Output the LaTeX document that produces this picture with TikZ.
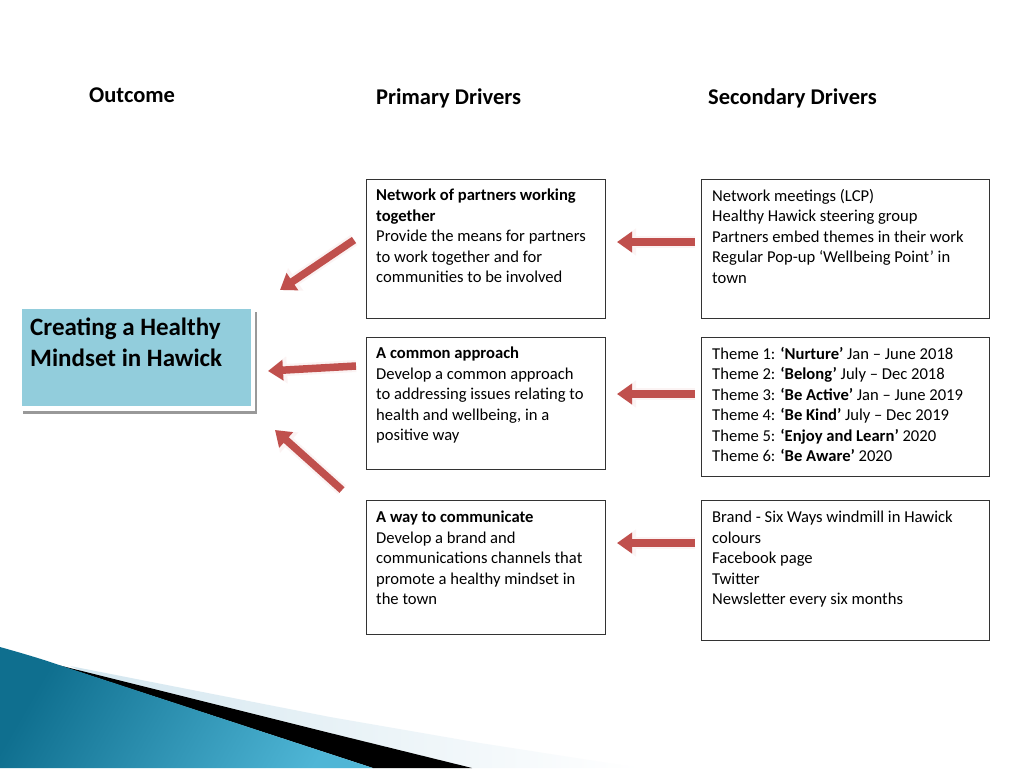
\documentclass[tikz,border=0pt]{standalone}
\usepackage{fontspec}
\setmainfont{Carlito}
\usetikzlibrary{arrows.meta}
\definecolor{arrowred}{HTML}{C0504D}
\definecolor{outfill}{HTML}{92CDDC}
\definecolor{swdark}{HTML}{0F6F8F}
\definecolor{swlight}{HTML}{4FB6D6}
\definecolor{pale}{HTML}{D3E6EF}
\tikzset{
  x=1pt, y=-1pt,
  drvbox/.style={draw=black!80, line width=0.8pt, anchor=north west, inner sep=0pt},
  drvtext/.style={anchor=north west, inner sep=0pt, align=left,
     font=\fontsize{16.6}{20.5}\selectfont},
  header/.style={anchor=base west, inner sep=0pt, font=\fontsize{22.5}{26}\selectfont\bfseries},
  blockglow/.style={line width=12pt, draw=arrowred!7, -{Triangle[length=19pt,width=26pt]}, arrowred!7},
  blockarr/.style={line width=7.5pt, draw=arrowred, -{Triangle[length=15pt,width=20pt]}, arrowred},
}
\begin{document}
\begin{tikzpicture}
\useasboundingbox (0,0) rectangle (1024,768);
\fill[white] (0,0) rectangle (1024,768);

% headers
\node[header] (hout) at (89,102) {Outcome};
\node[header] (hpri) at (376,104) {Primary Drivers};
\node[header] (hsec) at (708,104) {Secondary Drivers};

% outcome box
\fill[black!40] (23,312) rectangle (257,414);
\fill[white] (18,305) rectangle (255,411);
\node[fill=outfill, minimum width=229pt, minimum height=97pt, anchor=north west, inner sep=0pt] (out) at (22,309) {};
\node[anchor=north west, inner sep=0pt, align=left,
  font=\fontsize{25}{31}\selectfont\bfseries] (outtxt) at (30,318) {Creating a Healthy\\Mindset in Hawick};

% primary boxes
\node[drvbox, minimum width=239pt, minimum height=139pt] (p1) at (366,179) {};
\node[drvtext] (p1t) at (376,189) {\textbf{Network of partners working}\\\textbf{together}\\Provide the means for partners\\to work together and for\\communities to be involved};
\node[drvbox, minimum width=239pt, minimum height=132pt] (p2) at (366,337) {};
\node[drvtext] (p2t) at (376,347) {\textbf{A common approach}\\Develop a common approach\\to addressing issues relating to\\health and wellbeing, in a\\positive way};
\node[drvbox, minimum width=239pt, minimum height=134pt] (p3) at (366,500) {};
\node[drvtext] (p3t) at (376,511) {\textbf{A way to communicate}\\Develop a brand and\\communications channels that\\promote a healthy mindset in\\the town};

% secondary boxes
\node[drvbox, minimum width=288pt, minimum height=139pt] (s1) at (701,179) {};
\node[drvtext] (s1t) at (712,189) {Network meetings (LCP)\\Healthy Hawick steering group\\Partners embed themes in their work\\Regular Pop-up ‘Wellbeing Point’ in\\town};
\node[drvbox, minimum width=288pt, minimum height=139pt] (s2) at (701,337) {};
\node[drvtext] (s2t) at (712,347) {Theme 1: \textbf{‘Nurture’} Jan – June 2018\\Theme 2: \textbf{‘Belong’} July – Dec 2018\\Theme 3: \textbf{‘Be Active’} Jan – June 2019\\Theme 4: \textbf{‘Be Kind’} July – Dec 2019\\Theme 5: \textbf{‘Enjoy and Learn’} 2020\\Theme 6: \textbf{‘Be Aware’} 2020};
\node[drvbox, minimum width=288pt, minimum height=140pt] (s3) at (701,500) {};
\node[drvtext] (s3t) at (712,511) {Brand - Six Ways windmill in Hawick\\colours\\Facebook page\\Twitter\\Newsletter every six months};

% arrow end coordinates
\coordinate (a1s) at (695,242); \coordinate (a1e) at (617,242);
\coordinate (a2s) at (695,394); \coordinate (a2e) at (617,394);
\coordinate (a3s) at (695,543); \coordinate (a3e) at (617,543);
\coordinate (b1s) at (354,240); \coordinate (b1e) at (280,290);
\coordinate (b2s) at (356,366); \coordinate (b2e) at (268,371);
\coordinate (b3s) at (342,490); \coordinate (b3e) at (275,430);

\foreach \s/\e in {a1s/a1e,a2s/a2e,a3s/a3e,b1s/b1e,b2s/b2e,b3s/b3e}{
  \draw[blockglow] (\s) -- (\e);
}
\foreach \s/\e in {a1s/a1e,a2s/a2e,a3s/a3e,b1s/b1e,b2s/b2e,b3s/b3e}{
  \draw[blockarr] (\s) -- (\e);
}

% bottom swoosh
\shade[left color=pale, right color=white]
  (70,666) -- (330,717) -- (480,743) -- (640,768) -- (300,768) -- cycle;
\fill[black] (58,665) -- (330,733) -- (472,768) -- (373,768) -- cycle;
\shade[left color=swdark, right color=swlight, shading angle=60]
  (0,647) .. controls (25,654) and (45,660) .. (62,666) -- (373,768) -- (0,768) -- cycle;
\end{tikzpicture}
\end{document}
